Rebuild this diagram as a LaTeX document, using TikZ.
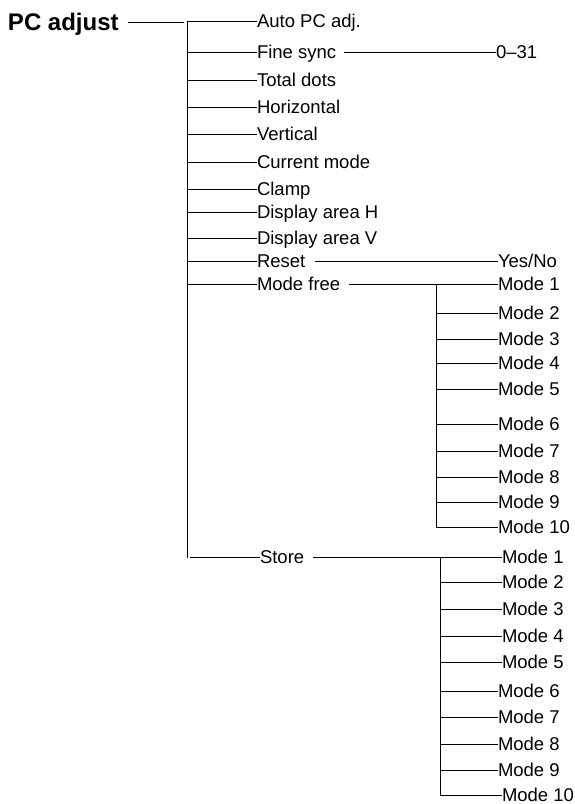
\documentclass[tikz,border=0pt]{standalone}
\usepackage{fontspec}
\setmainfont{Liberation Sans}
\begin{document}
\begin{tikzpicture}[x=1pt,y=-1pt,
  lbl/.style={anchor=west, inner sep=0pt, outer sep=0pt, text height=13.2pt, text depth=0pt, font=\fontsize{18.5}{20}\selectfont},
  ttl/.style={anchor=west, inner sep=0pt, outer sep=0pt, text height=17.2pt, text depth=0pt, font=\fontsize{24}{26}\selectfont\bfseries},
  ln/.style={line width=1pt, line cap=butt},
]
\useasboundingbox (0,0) rectangle (574,804);

% title
\node[ttl] (pc) at (8,22) {PC adjust};
\coordinate (pcend) at (184,22);
\draw[ln] ([xshift=9pt]pc.east) -- (pcend);

% main bus
\coordinate (bustop) at (187,22);
\coordinate (busbot) at (187,558);
\draw[ln] (bustop) -- (busbot);

% main children
\foreach \n/\t/\y in {auto/Auto PC adj./21, fine/Fine sync/52, total/Total dots/80,
  horiz/Horizontal/107, vert/Vertical/134, cur/Current mode/162, clamp/Clamp/189,
  dah/Display area H/212, dav/Display area V/238, reset/Reset/261, mfree/Mode free/284}{
  \node[lbl] (\n) at (257,\y) {\t};
  \coordinate (b-\n) at (187,\y);
  \draw[ln] (b-\n) -- (\n.west);
}
\node[lbl] (store) at (260,557) {Store};
\coordinate (b-store) at (190,557);
\draw[ln] (b-store) -- (store.west);

% Fine sync -> 0-31
\node[lbl] (r031) at (496,52) {0–31};
\draw[ln] ([xshift=8pt]fine.east) -- (r031.west);

% Reset -> Yes/No
\node[lbl] (yesno) at (498,261) {Yes/No};
\draw[ln] ([xshift=10pt]reset.east) -- (yesno.west);

% Mode free -> modes
\coordinate (mftop) at (436,284);
\coordinate (mfbot) at (436,527);
\draw[ln] (mftop) -- (mfbot);
\node[lbl] (mf1) at (498,284) {Mode 1};
\draw[ln] ([xshift=9pt]mfree.east) -- (mf1.west);
\foreach \i/\y in {2/313, 3/339, 4/363, 5/389, 6/424, 7/451, 8/477, 9/502, 10/527}{
  \node[lbl] (mf\i) at (498,\y) {Mode \i};
  \coordinate (mb\i) at (436,\y);
  \draw[ln] (mb\i) -- (mf\i.west);
}

% Store -> modes
\coordinate (sttop) at (440,557);
\coordinate (stbot) at (440,795);
\draw[ln] (sttop) -- (stbot);
\node[lbl] (st1) at (502,557) {Mode 1};
\draw[ln] ([xshift=9pt]store.east) -- (st1.west);
\foreach \i/\y/\x in {2/582/502, 3/609/502, 4/636/502, 5/662/502, 6/691/498, 7/717/498, 8/744/498, 9/770/498, 10/795/502}{
  \node[lbl] (st\i) at (\x,\y) {Mode \i};
  \coordinate (sb\i) at (440,\y);
  \draw[ln] (sb\i) -- (st\i.west);
}
\end{tikzpicture}
\end{document}
